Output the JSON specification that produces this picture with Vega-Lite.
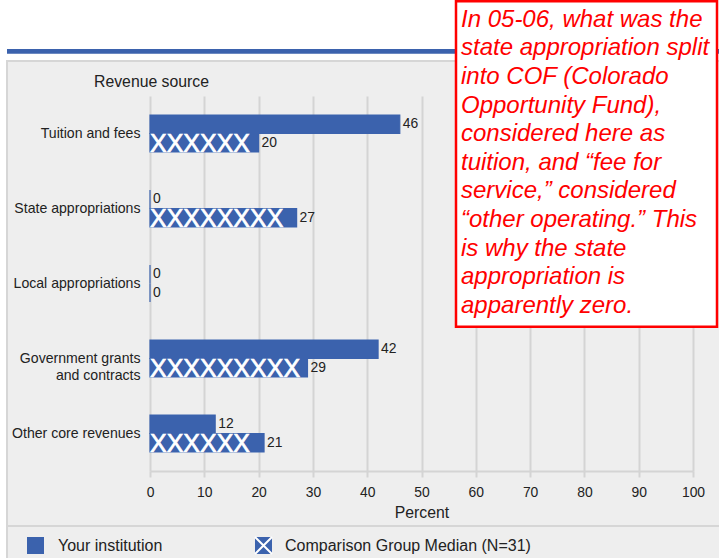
{
  "$schema": "https://vega.github.io/schema/vega-lite/v6.json",
  "width": 543,
  "height": 375,
  "autosize": {"type": "none"},
  "padding": {"left": 150, "top": 96, "right": 26, "bottom": 87},
  "background": "#eeeeee",
  "config": {
    "font": "Liberation Sans",
    "view": {"stroke": null},
    "axis": {"labelColor": "#222222", "titleColor": "#222222", "titleFontWeight": "normal"}
  },
  "datasets": {
    "revenue": [
      {"source": "Tuition and fees", "series": "Your institution", "value": 46},
      {"source": "Tuition and fees", "series": "Comparison Group Median (N=31)", "value": 20},
      {"source": "State appropriations", "series": "Your institution", "value": 0},
      {"source": "State appropriations", "series": "Comparison Group Median (N=31)", "value": 27},
      {"source": "Local appropriations", "series": "Your institution", "value": 0},
      {"source": "Local appropriations", "series": "Comparison Group Median (N=31)", "value": 0},
      {"source": "Government grants and contracts", "series": "Your institution", "value": 42},
      {"source": "Government grants and contracts", "series": "Comparison Group Median (N=31)", "value": 29},
      {"source": "Other core revenues", "series": "Your institution", "value": 12},
      {"source": "Other core revenues", "series": "Comparison Group Median (N=31)", "value": 21}
    ]
  },
  "layer": [
    {
      "data": {"values": [{}]},
      "mark": {"type": "rect", "color": "#ffffff"},
      "encoding": {
        "x": {"datum": -27.7, "type": "quantitative", "scale": {"domain": [0, 100], "nice": false, "zero": false}, "axis": null},
        "x2": {"datum": 104.9},
        "y": {"datum": -25.7, "type": "quantitative", "scale": {"domain": [0, 100], "nice": false, "zero": false, "reverse": true}, "axis": null},
        "y2": {"datum": -9.45}
      }
    },
    {
      "data": {"values": [{}]},
      "mark": {"type": "rect", "color": "#ffffff"},
      "encoding": {
        "x": {"datum": -27.7, "type": "quantitative", "scale": {"domain": [0, 100], "nice": false, "zero": false}, "axis": null},
        "x2": {"datum": -26.43},
        "y": {"datum": -25.7, "type": "quantitative", "scale": {"domain": [0, 100], "nice": false, "zero": false, "reverse": true}, "axis": null},
        "y2": {"datum": 124}
      }
    },
    {
      "data": {"values": [{}]},
      "mark": {"type": "rect", "color": "#3b62ad"},
      "encoding": {
        "x": {"datum": -26.335, "type": "quantitative", "scale": {"domain": [0, 100], "nice": false, "zero": false}, "axis": null},
        "x2": {"datum": 104.9},
        "y": {"datum": -12.53, "type": "quantitative", "scale": {"domain": [0, 100], "nice": false, "zero": false, "reverse": true}, "axis": null},
        "y2": {"datum": -11.28}
      }
    },
    {
      "data": {"values": [{}]},
      "mark": {"type": "rect", "fill": null, "filled": false, "stroke": "#d6d6d6", "strokeWidth": 2},
      "encoding": {
        "x": {"datum": -26.335, "type": "quantitative", "scale": {"domain": [0, 100], "nice": false, "zero": false}, "axis": null},
        "x2": {"datum": 110},
        "y": {"datum": -9.333, "type": "quantitative", "scale": {"domain": [0, 100], "nice": false, "zero": false, "reverse": true}, "axis": null},
        "y2": {"datum": 130}
      }
    },
    {
      "data": {"values": [{}]},
      "mark": {"type": "rule", "color": "#d6d6d6", "strokeWidth": 2},
      "encoding": {
        "x": {"datum": -26.335, "type": "quantitative", "scale": {"domain": [0, 100], "nice": false, "zero": false}, "axis": null},
        "x2": {"datum": 104.9},
        "y": {"datum": 114.667, "type": "quantitative", "scale": {"domain": [0, 100], "nice": false, "zero": false, "reverse": true}, "axis": null}
      }
    },
    {
      "data": {"name": "revenue"},
      "layer": [
        {
          "mark": {"type": "bar", "color": "#3b62ad", "stroke": "#3b62ad", "strokeWidth": 1.2},
          "encoding": {
            "y": {
              "field": "source", "type": "nominal",
              "sort": ["Tuition and fees", "State appropriations", "Local appropriations", "Government grants and contracts", "Other core revenues"],
              "scale": {"paddingInner": 0.507, "paddingOuter": 0.2535},
              "title": "Revenue source",
              "axis": {
                "ticks": false, "domain": false, "grid": false,
                "labelFontSize": 14.1, "labelPadding": 10, "labelLineHeight": 17,
                "labelExpr": "datum.value == 'Government grants and contracts' ? ['Government grants', 'and contracts'] : datum.value",
                "titleAngle": 0, "titleAlign": "left", "titleBaseline": "alphabetic",
                "titleX": -56.5, "titleY": -9.5, "titleFontSize": 15.8
              }
            },
            "yOffset": {
              "field": "series", "type": "nominal",
              "sort": ["Your institution", "Comparison Group Median (N=31)"],
              "scale": {"paddingInner": 0, "paddingOuter": 0}
            },
            "x": {
              "field": "value", "type": "quantitative",
              "scale": {"domain": [0, 100], "nice": false},
              "title": "Percent",
              "axis": {
                "values": [0, 10, 20, 30, 40, 50, 60, 70, 80, 90, 100],
                "grid": true, "gridColor": "#d4d4d4", "gridWidth": 2,
                "domainColor": "#d4d4d4", "domainWidth": 2,
                "tickColor": "#d4d4d4", "tickWidth": 2, "tickSize": 6,
                "labelFontSize": 13.9, "labelPadding": 8, "labelFlush": false,
                "titleFontSize": 15.8, "titlePadding": 7
              }
            }
          }
        },
        {
          "transform": [{"filter": "datum.series == 'Comparison Group Median (N=31)' && datum.value > 0"}],
          "mark": {
            "type": "text", "text": "XXXXXXXXXXXXXXXXXXXXXXXXXXXXXXXXXXXXXXXX",
            "font": "Liberation Sans", "fontSize": 25, "color": "#ffffff",
            "stroke": "#ffffff", "strokeWidth": 0.7,
            "align": "left", "baseline": "alphabetic", "dy": 9.2,
            "ellipsis": "\u200b", "limit": {"expr": "max(0.5, datum.value * width / 100)"}
          },
          "encoding": {
            "y": {"field": "source", "type": "nominal", "sort": ["Tuition and fees", "State appropriations", "Local appropriations", "Government grants and contracts", "Other core revenues"]},
            "yOffset": {"field": "series", "type": "nominal", "sort": ["Your institution", "Comparison Group Median (N=31)"]},
            "x": {"datum": 0, "type": "quantitative"}
          }
        },
        {
          "mark": {"type": "text", "align": "left", "baseline": "middle", "dx": 3, "fontSize": 13.9, "color": "#222222"},
          "encoding": {
            "y": {"field": "source", "type": "nominal", "sort": ["Tuition and fees", "State appropriations", "Local appropriations", "Government grants and contracts", "Other core revenues"]},
            "yOffset": {"field": "series", "type": "nominal", "sort": ["Your institution", "Comparison Group Median (N=31)"]},
            "x": {"field": "value", "type": "quantitative"},
            "text": {"field": "value", "type": "quantitative"}
          }
        }
      ]
    },
    {
      "data": {"values": [{}]},
      "mark": {"type": "rect", "fill": "#ffffff", "stroke": "#ff0000", "strokeWidth": 2.5},
      "encoding": {
        "x": {"datum": 56.354, "type": "quantitative", "scale": {"domain": [0, 100], "nice": false, "zero": false}, "axis": null},
        "x2": {"datum": 104.42},
        "y": {"datum": -25.28, "type": "quantitative", "scale": {"domain": [0, 100], "nice": false, "zero": false, "reverse": true}, "axis": null},
        "y2": {"datum": 61.55}
      }
    },
    {
      "data": {"values": [{}]},
      "mark": {
        "type": "text",
        "text": ["In 05-06, what was the", "state appropriation split", "into COF (Colorado", "Opportunity Fund),", "considered here as", "tuition, and “fee for", "service,” considered", "“other operating.” This", "is why the state", "appropriation is", "apparently zero."],
        "fontSize": 24, "fontStyle": "italic", "color": "#ff0000", "lineHeight": 28.63,
        "align": "left", "baseline": "alphabetic"
      },
      "encoding": {
        "x": {"datum": 57.274, "type": "quantitative", "scale": {"domain": [0, 100], "nice": false, "zero": false}, "axis": null},
        "y": {"datum": -18.48, "type": "quantitative", "scale": {"domain": [0, 100], "nice": false, "zero": false, "reverse": true}, "axis": null}
      }
    },
    {
      "data": {"values": [{}]},
      "mark": {"type": "point", "shape": "square", "filled": true, "size": 289, "color": "#3b62ad", "opacity": 1},
      "encoding": {
        "x": {"datum": -21.087, "type": "quantitative", "scale": {"domain": [0, 100], "nice": false, "zero": false}, "axis": null},
        "y": {"datum": 119.867, "type": "quantitative", "scale": {"domain": [0, 100], "nice": false, "zero": false, "reverse": true}, "axis": null}
      }
    },
    {
      "data": {"values": [{}]},
      "mark": {"type": "point", "shape": "square", "filled": true, "size": 289, "color": "#3b62ad", "opacity": 1},
      "encoding": {
        "x": {"datum": 20.902, "type": "quantitative", "scale": {"domain": [0, 100], "nice": false, "zero": false}, "axis": null},
        "y": {"datum": 119.867, "type": "quantitative", "scale": {"domain": [0, 100], "nice": false, "zero": false, "reverse": true}, "axis": null}
      }
    },
    {
      "data": {"values": [{}]},
      "mark": {"type": "point", "shape": "M-1,-1L1,1M1,-1L-1,1", "filled": false, "size": 289, "stroke": "#ffffff", "strokeWidth": 2, "opacity": 1},
      "encoding": {
        "x": {"datum": 20.902, "type": "quantitative", "scale": {"domain": [0, 100], "nice": false, "zero": false}, "axis": null},
        "y": {"datum": 119.867, "type": "quantitative", "scale": {"domain": [0, 100], "nice": false, "zero": false, "reverse": true}, "axis": null}
      }
    },
    {
      "data": {"values": [{}]},
      "mark": {"type": "text", "text": "Your institution", "fontSize": 16, "color": "#222222", "align": "left", "baseline": "middle"},
      "encoding": {
        "x": {"datum": -16.943, "type": "quantitative", "scale": {"domain": [0, 100], "nice": false, "zero": false}, "axis": null},
        "y": {"datum": 119.867, "type": "quantitative", "scale": {"domain": [0, 100], "nice": false, "zero": false, "reverse": true}, "axis": null}
      }
    },
    {
      "data": {"values": [{}]},
      "mark": {"type": "text", "text": "Comparison Group Median (N=31)", "fontSize": 16, "color": "#222222", "align": "left", "baseline": "middle"},
      "encoding": {
        "x": {"datum": 24.862, "type": "quantitative", "scale": {"domain": [0, 100], "nice": false, "zero": false}, "axis": null},
        "y": {"datum": 119.867, "type": "quantitative", "scale": {"domain": [0, 100], "nice": false, "zero": false, "reverse": true}, "axis": null}
      }
    }
  ],
  "resolve": {"scale": {"x": "independent", "y": "independent"}}
}
